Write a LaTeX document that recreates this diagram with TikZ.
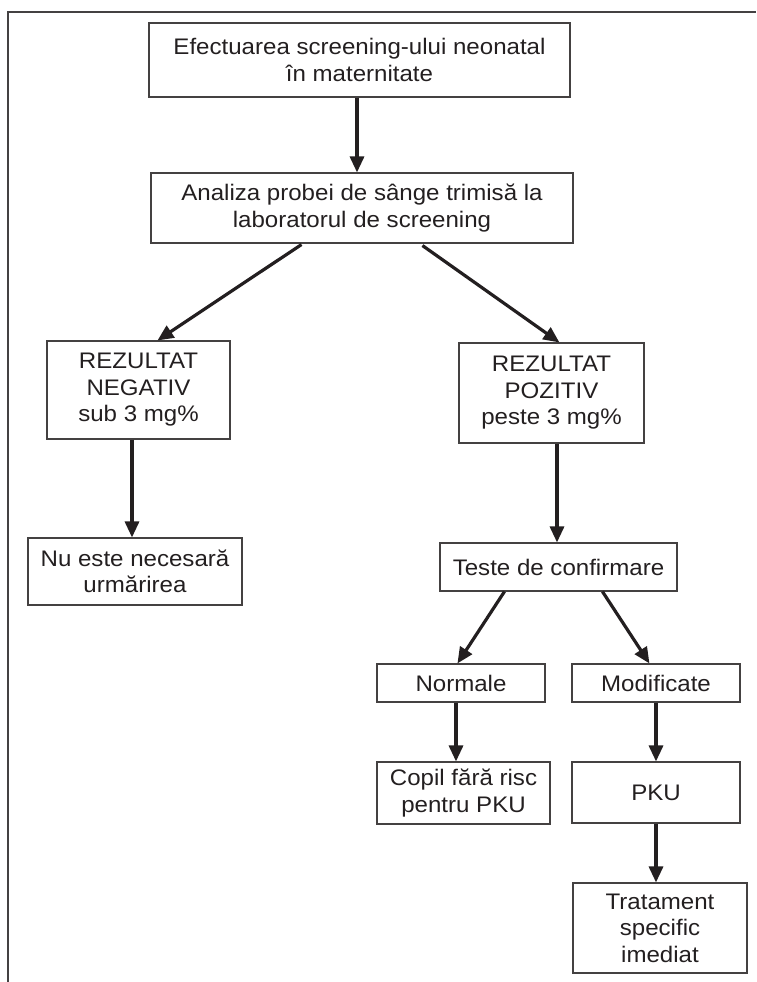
\documentclass[tikz,border=0pt]{standalone}
\usepackage{fontspec}
\setmainfont{Liberation Sans}[FakeStretch=1.07]
\usetikzlibrary{arrows.meta,calc}
\definecolor{ink}{HTML}{231F20}
\begin{document}
\begin{tikzpicture}[x=1pt,y=-1pt,
  box/.style={draw=ink!85,line width=1.1pt,rectangle,inner sep=0pt,align=center,
    text=ink,font=\fontsize{22.5}{26.5}\selectfont},
  arr/.style={draw=ink,line width=3.2pt,-{Triangle[length=16pt,width=14pt]}}]
\useasboundingbox (0,0) rectangle (756,982);
\draw[ink!85,line width=1.1pt] (8,982) -- (8,12) -- (756,12);
\node[box,minimum width=421pt,minimum height=74pt] (b1) at (359.5,60) {Efectuarea screening-ului neonatal\\în maternitate};
\node[box,minimum width=422pt,minimum height=70pt] (b2) at (362,208) {Analiza probei de sânge trimisă la\\laboratorul de screening};
\node[box,minimum width=183pt,minimum height=98pt] (neg) at (138.5,390) {REZULTAT\\NEGATIV\\sub 3 mg\%};
\node[box,minimum width=214pt,minimum height=67pt] (nu) at (135,571.5) {Nu este necesară\\urmărirea};
\node[box,minimum width=185pt,minimum height=100pt] (poz) at (551.5,393) {REZULTAT\\POZITIV\\peste 3 mg\%};
\node[box,minimum width=237pt,minimum height=48pt] (teste) at (558.5,567) {Teste de confirmare};
\node[box,minimum width=168pt,minimum height=38pt] (norm) at (461,683) {Normale};
\node[box,minimum width=168pt,minimum height=38pt] (mod) at (656,683) {Modificate};
\node[box,minimum width=173pt,minimum height=62pt] (copil) at (463.5,793) {Copil fără risc\\pentru PKU};
\node[box,minimum width=168pt,minimum height=61pt] (pku) at (656,792.5) {PKU};
\node[box,minimum width=174pt,minimum height=90pt] (trat) at (660,928) {Tratament\\specific\\imediat};
\coordinate (s1) at ($(b1.south)+(-2.5,0)$);
\coordinate (s2) at ($(neg.south)+(-6.5,0)$);
\coordinate (s3) at ($(poz.south)+(5.5,0)$);
\coordinate (s4) at ($(norm.south)+(-5,0)$);
\draw[arr] (s1) -- (s1 |- b2.north);
\draw[arr] ($(b2.south west)+(151,1)$) -- ($(neg.north west)+(111,0)$);
\draw[arr] ($(b2.south west)+(272,2)$) -- ($(poz.north west)+(101,0)$);
\draw[arr] (s2) -- (s2 |- nu.north);
\draw[arr] (s3) -- (s3 |- teste.north);
\draw[arr] ($(teste.south west)+(65,0)$) -- ($(norm.north west)+(81,0)$);
\draw[arr] ($(teste.south west)+(163,0)$) -- ($(mod.north west)+(78,0)$);
\draw[arr] (s4) -- (s4 |- copil.north);
\draw[arr] (mod.south) -- (pku.north);
\draw[arr] (pku.south) -- (pku.south |- trat.north);
\end{tikzpicture}
\end{document}
